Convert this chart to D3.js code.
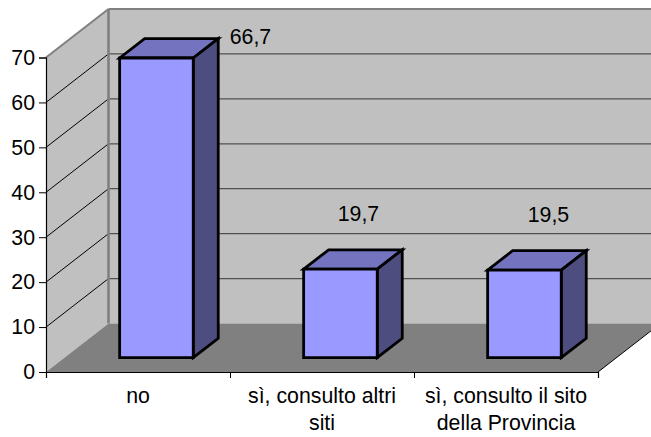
<!DOCTYPE html>
<html>
<head>
<meta charset="utf-8">
<script src="https://cdnjs.cloudflare.com/ajax/libs/d3/7.8.5/d3.min.js"></script>
<style>
  html, body { margin: 0; padding: 0; background: #fff; }
  svg { display: block; }
  text { font-family: "Liberation Sans", Arial, sans-serif; font-size: 21.3px; fill: #000; }
</style>
</head>
<body>
<svg id="chart" width="651" height="437"></svg>
<script>
// Chart data
const categories = [["no"], ["sì, consulto altri", "siti"], ["sì, consulto il sito", "della Provincia"]];
const values = [66.7, 19.7, 19.5];
const valueLabels = ["66,7", "19,7", "19,5"];
const yTicks = [0, 10, 20, 30, 40, 50, 60, 70];

// Plot frame and the oblique offset that gives the box its depth
const frame = { left: 46, right: 598, bottom: 372, top: 57.5 };
const depth = { dx: 62.5, dy: -48.5 };
const barDepth = { start: 0.295, end: 0.695 };
const labelNudge = [[94, -14], [18, -48], [24, -48]];

const x = d3.scaleBand().domain(d3.range(categories.length))
  .range([frame.left, frame.right]);
const y = d3.scaleLinear().domain([0, 70]).range([frame.bottom, frame.top]);

// Moves a front-plane point back by fraction t of the box depth
const project = (px, py, t) => [px + depth.dx * t, py + depth.dy * t];
const poly = pts => pts.map(p => p.join(",")).join(" ");

const svg = d3.select("#chart");
const x0 = frame.left, x1 = frame.right, y0 = frame.bottom, yTop = y(70);

// Back wall, side wall, floor
svg.append("polygon").attr("fill", "#c0c0c0")
  .attr("points", poly([project(x0, yTop, 1), project(x1, yTop, 1), project(x1, y0, 1), project(x0, y0, 1)]));
svg.append("polygon").attr("fill", "#c0c0c0")
  .attr("points", poly([[x0, yTop], project(x0, yTop, 1), project(x0, y0, 1), [x0, y0]]));
svg.append("polygon").attr("fill", "#808080")
  .attr("points", poly([[x0, y0], [x1, y0], project(x1, y0, 1), project(x0, y0, 1)]));

// Gridlines run along the side wall and across the back wall
const grid = svg.append("g");
yTicks.filter(d => d > 0 && d < 70).forEach(d => {
  const back = project(x0, y(d), 1);
  grid.append("line").attr("x1", x0).attr("y1", y(d)).attr("x2", back[0]).attr("y2", back[1])
    .attr("stroke", "#000").attr("stroke-width", 1);
  grid.append("line").attr("x1", back[0]).attr("y1", back[1])
    .attr("x2", project(x1, y(d), 1)[0]).attr("y2", back[1])
    .attr("stroke", "#505050").attr("stroke-width", 1.2);
});

// Wall edges
const edge = (a, b, w) => svg.append("line").attr("x1", a[0]).attr("y1", a[1]).attr("x2", b[0]).attr("y2", b[1])
  .attr("stroke", "#808080").attr("stroke-width", w);
edge(project(x0, yTop, 1), project(x1, yTop, 1), 2);
edge(project(x0, yTop, 1), project(x0, y0, 1), 2.6);
edge([x0, yTop], project(x0, yTop, 1), 2);

// Axis lines and ticks, with the category labels set by hand for two-line wrapping
const axisY = d3.axisLeft(y).tickValues(yTicks).tickSize(7).tickPadding(4);
const gy = svg.append("g").attr("transform", `translate(${x0},0)`).call(axisY);
const axisX = d3.axisBottom(d3.scaleLinear().domain([0, categories.length]).range([x0, x1]))
  .ticks(categories.length).tickSize(6).tickFormat("");
const gx = svg.append("g").attr("transform", `translate(0,${y0})`).call(axisX);
[gy, gx].forEach(g => {
  g.selectAll("path").attr("stroke", "#000").attr("stroke-width", 1.2);
  g.selectAll("line").attr("stroke", "#000").attr("stroke-width", 1);
});
gy.selectAll("text").style("font-size", "21.3px").style("font-family", '"Liberation Sans", Arial, sans-serif');

// Open-ended corner of the floor to the right of the axis
svg.append("line").attr("x1", x1).attr("y1", y0)
  .attr("x2", 651).attr("y2", y0 + depth.dy * (651 - x1) / depth.dx)
  .attr("stroke", "#000").attr("stroke-width", 1);

// Bars
const bw = (x1 - x0) / categories.length * 0.4;
const bars = svg.append("g").attr("stroke", "#000").attr("stroke-width", 2.8).attr("stroke-linejoin", "miter");
values.forEach((v, i) => {
  const catLeft = x0 + (x1 - x0) / categories.length * i;
  const cx = catLeft + x.bandwidth() / 2;
  const l = cx - bw / 2, r = cx + bw / 2;
  const fb = project(0, y(0), barDepth.start)[1];
  const ft = fb - (y(0) - y(v));
  const A = project(l, 0, barDepth.start)[0], B = project(r, 0, barDepth.start)[0];
  const span = barDepth.end - barDepth.start;
  const ox = depth.dx * span, oy = depth.dy * span;

  bars.append("polygon").attr("fill", "#7373bf")
    .attr("points", poly([[A, ft], [B, ft], [B + ox, ft + oy], [A + ox, ft + oy]]));
  bars.append("polygon").attr("fill", "#4d4d80")
    .attr("points", poly([[B, ft], [B + ox, ft + oy], [B + ox, fb + oy], [B, fb]]));
  bars.append("polygon").attr("fill", "#9999ff")
    .attr("points", poly([[A, ft], [B, ft], [B, fb], [A, fb]]));

  svg.append("text").attr("text-anchor", "middle")
    .attr("x", (A + B) / 2 + labelNudge[i][0]).attr("y", ft + labelNudge[i][1])
    .text(valueLabels[i]);

  categories[i].forEach((line, j) => {
    svg.append("text").attr("text-anchor", "middle")
      .attr("x", cx).attr("y", y0 + 31 + j * 27).text(line);
  });
});
</script>
</body>
</html>
